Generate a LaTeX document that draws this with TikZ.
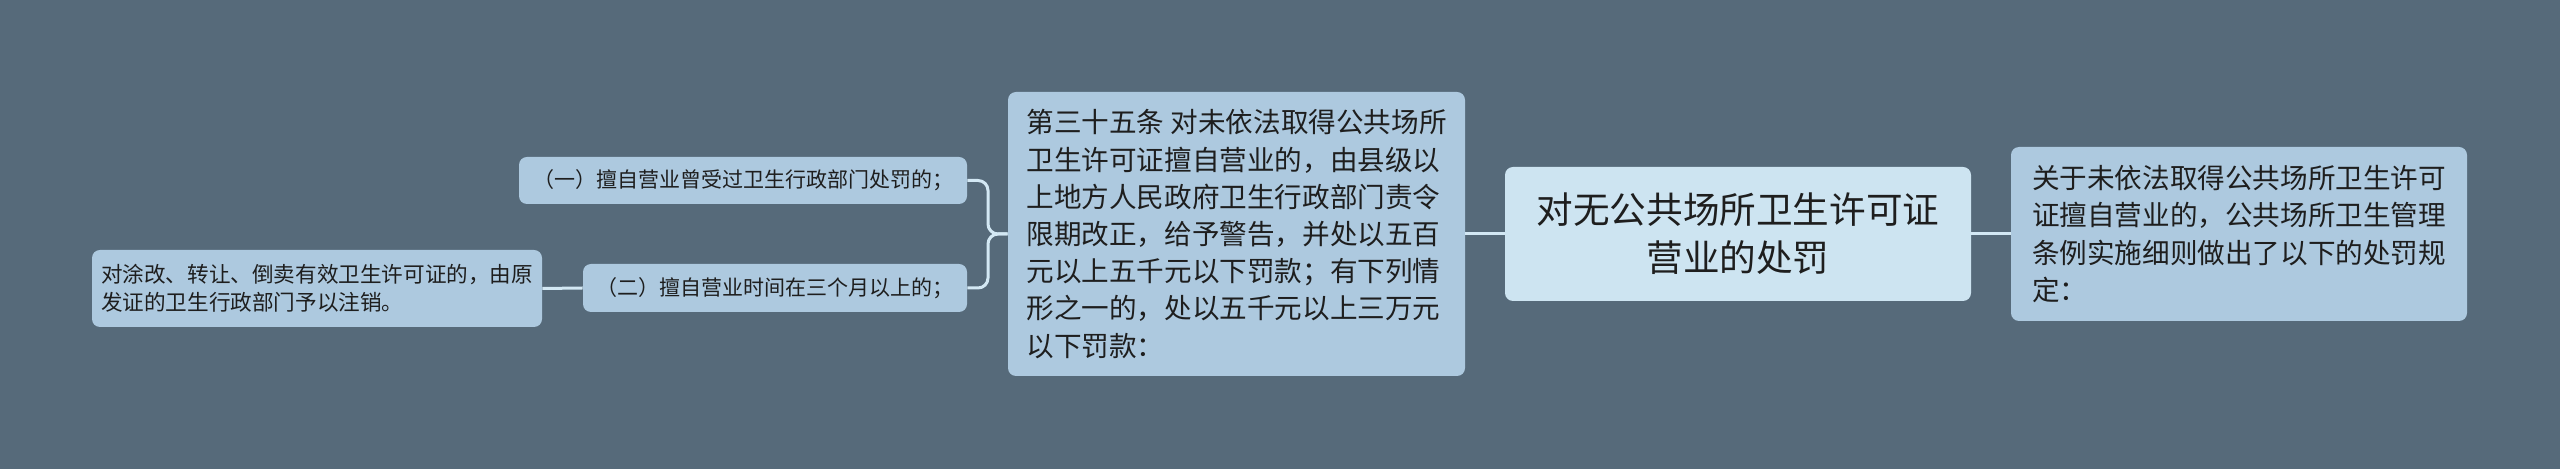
\documentclass[tikz,border=0pt]{standalone}
\usepackage{fontspec}
\newfontfamily\cjk{Noto Sans CJK SC}
\definecolor{bgc}{HTML}{566A7A}
\definecolor{boxc}{HTML}{ADC9DF}
\definecolor{mainc}{HTML}{CDE4F1}
\definecolor{linec}{HTML}{D3E8F4}
\definecolor{txtc}{HTML}{1E1E1E}
\tikzset{
  box/.style={draw=none, fill=boxc, rounded corners=4pt, text=txtc, align=left, inner sep=0pt},
  mainbox/.style={box, fill=mainc, align=center},
  bigtxt/.style={font=\cjk\fontsize{13.8}{18.6}\selectfont},
  smalltxt/.style={font=\cjk\fontsize{10.5}{14}\selectfont},
  lefttxt/.style={font=\cjk\fontsize{10.8}{14}\selectfont},
  maintxt/.style={font=\cjk\fontsize{18.3}{24}\selectfont},
  conn/.style={draw=linec, line width=1.5pt, rounded corners=5pt}
}
\begin{document}
\begin{tikzpicture}[x=0.5pt,y=-0.5pt]
\fill[bgc] (0,0) rectangle (2560,469);
\useasboundingbox (0,0) rectangle (2560,469);

\node[mainbox, maintxt, minimum width=233pt, minimum height=67pt] (main) at (1738,234)
  {对无公共场所卫生许可证\\营业的处罚};
\node[box, bigtxt, minimum width=228pt, minimum height=87pt] (right) at (2239,234)
  {关于未依法取得公共场所卫生许可\\证擅自营业的，公共场所卫生管理\\条例实施细则做出了以下的处罚规\\定：};
\node[box, bigtxt, minimum width=228.5pt, minimum height=142pt] (art) at (1236.5,234)
  {第三十五条 对未依法取得公共场所\\卫生许可证擅自营业的，由县级以\\上地方人民政府卫生行政部门责令\\限期改正，给予警告，并处以五百\\元以上五千元以下罚款；有下列情\\形之一的，处以五千元以上三万元\\以下罚款：};
\node[box, smalltxt, minimum width=224pt, minimum height=23.5pt] (one) at (743,180.5)
  {（一）擅自营业曾受过卫生行政部门处罚的；};
\node[box, smalltxt, minimum width=192pt, minimum height=24pt] (two) at (775,288)
  {（二）擅自营业时间在三个月以上的；};
\node[box, lefttxt, minimum width=225pt, minimum height=38.5pt] (left) at (317,288.5)
  {对涂改、转让、倒卖有效卫生许可证的，由原\\发证的卫生行政部门予以注销。};

\coordinate (br) at (988,234);
\draw[conn] (main.west) -- (art.east);
\draw[conn] (main.east) -- (right.west);
\draw[conn] (art.west) -- (br) |- (one.east);
\draw[conn] (art.west) -- (br) |- (two.east);
\draw[conn] (two.west) -- (left.east);
\end{tikzpicture}
\end{document}
